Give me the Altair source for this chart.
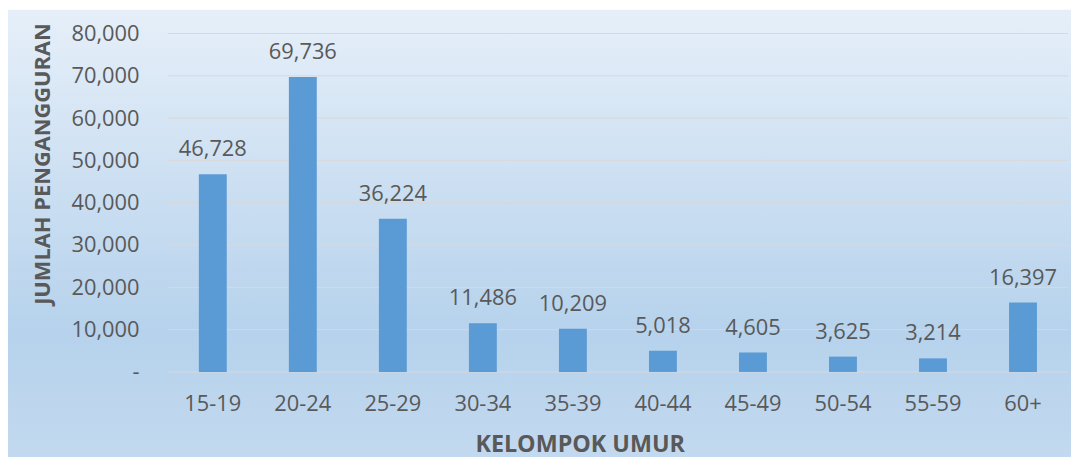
import altair as alt
import pandas as pd

categories = ["15-19", "20-24", "25-29", "30-34", "35-39", "40-44", "45-49", "50-54", "55-59", "60+"]
values = [46728, 69736, 36224, 11486, 10209, 5018, 4605, 3625, 3214, 16397]
y_ticks = [0, 10000, 20000, 30000, 40000, 50000, 60000, 70000, 80000]

df = pd.DataFrame({"umur": categories, "jumlah": values})
grid_df = pd.DataFrame({"v": y_ticks})

W, H = 907, 341
PL, PT, PR, PB = 161, 24, 3, 86
FONT = "Open Sans"
TXT = "#595959"
LFS = 22
TFS = 23.5

yscale = alt.Scale(domain=[0, 80000], nice=False)

bg = alt.Chart(pd.DataFrame({"a": [0]})).mark_rect(
    fill=alt.Gradient(
        gradient="linear",
        stops=[
            alt.GradientStop(color="#E6EFF9", offset=0),
            alt.GradientStop(color="#B6D2EC", offset=0.72),
            alt.GradientStop(color="#C2D9EF", offset=1),
        ],
        x1=0, x2=0, y1=0, y2=1,
    ),
    clip=False,
).encode(
    x=alt.value(-PL), x2=alt.value(W + PR),
    y=alt.value(-PT), y2=alt.value(H + PB),
)

yaxis = alt.Axis(title="JUMLAH PENGANGGURAN", values=y_ticks,
                 labelExpr="datum.value == 0 ? '-\u2007' : format(datum.value, ',')",
                 labelFont=FONT, labelFontSize=LFS, labelColor=TXT,
                 labelPadding=29, ticks=False, domain=False, grid=False, zindex=1,
                 titleFont=FONT, titleFontSize=22, titleFontWeight="bold",
                 titleColor=TXT, titleAngle=270, titleX=-126, titleY=131,
                 titleAlign="center", titleBaseline="middle")

grid = alt.Chart(grid_df).mark_rule(color="#D9D9D9", strokeWidth=1).encode(
    y=alt.Y("v:Q", scale=yscale, axis=yaxis),
    x=alt.value(0), x2=alt.value(W),
)

base = alt.Chart(df)

bars = base.mark_bar(color="#5B9BD5").encode(
    x=alt.X("umur:N", sort=categories,
            scale=alt.Scale(paddingInner=0.69, paddingOuter=0.345),
            axis=alt.Axis(title="KELOMPOK UMUR", labelAngle=0, labelFont=FONT,
                          labelFontSize=LFS, labelColor=TXT, labelPadding=22,
                          ticks=False, domain=False, grid=False, zindex=1,
                          titleFont=FONT, titleFontSize=TFS, titleFontWeight="bold",
                          titleColor=TXT, titleX=415, titleY=85,
                          titleAlign="center", titleBaseline="bottom")),
    y=alt.Y("jumlah:Q", scale=yscale, axis=yaxis),
)

labels = base.mark_text(font=FONT, fontSize=LFS, color=TXT, baseline="alphabetic", dy=-18).encode(
    x=alt.X("umur:N", sort=categories),
    y=alt.Y("jumlah:Q", scale=yscale),
    text=alt.Text("jumlah:Q", format=","),
)

chart = alt.layer(bg, grid, bars, labels).properties(
    width=W, height=H,
    autosize=alt.AutoSizeParams(type="none"),
    padding={"left": PL, "top": PT, "right": PR, "bottom": PB},
).configure_view(stroke=None).configure(background="transparent")

chart.save("out.html", embed_options={"renderer": "svg", "actions": False})
